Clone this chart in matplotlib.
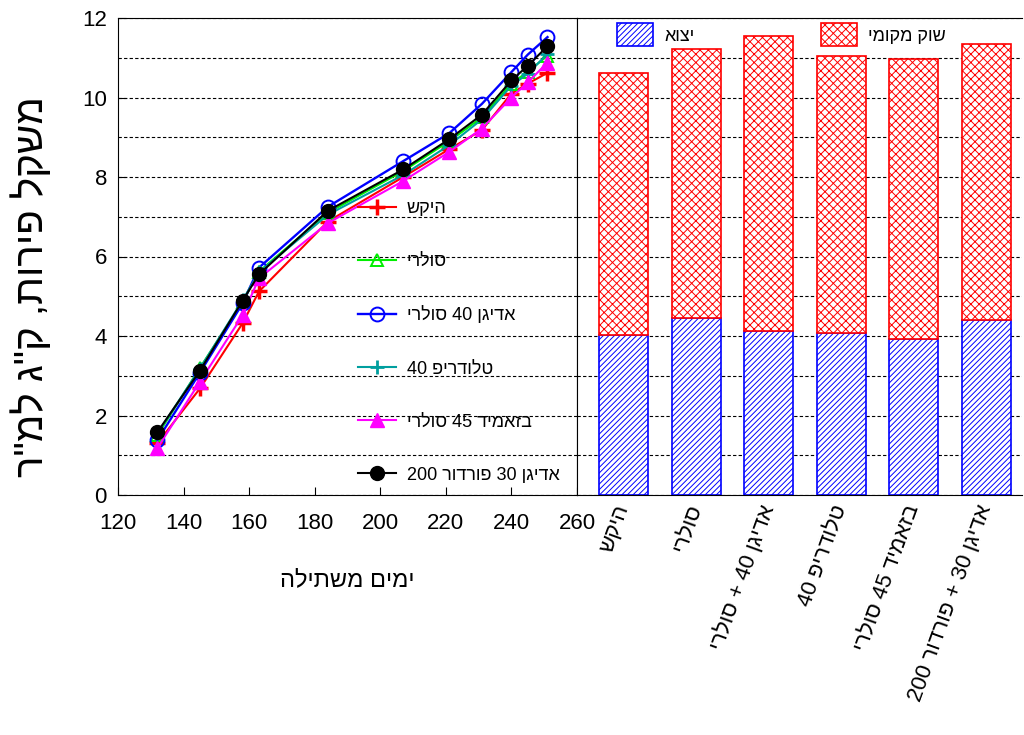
import re
import matplotlib
matplotlib.use('Agg')
import matplotlib.pyplot as plt
from matplotlib.ticker import MultipleLocator

plt.rcParams['font.family'] = ['Liberation Sans', 'DejaVu Sans']
plt.rcParams['hatch.linewidth'] = 0.7


def rtl(s):
    # matplotlib has no bidi support: flip Hebrew to visual order, keep numbers
    r = s[::-1]
    return re.sub(r'\d+', lambda m: m.group(0)[::-1], r)


# days from planting
days = [132, 145, 158, 163, 184, 207, 221, 231, 240, 245, 251]

control = [1.30, 2.68, 4.32, 5.12, 6.88, 8.00, 8.70, 9.18, 10.10, 10.35, 10.62]
solar = [1.50, 3.20, 4.85, 5.62, 7.10, 8.15, 8.90, 9.50, 10.35, 10.65, 11.05]
adigan_solar = [1.38, 3.08, 4.82, 5.72, 7.25, 8.40, 9.10, 9.84, 10.64, 11.08, 11.52]
teludrip = [1.55, 3.18, 4.90, 5.60, 7.05, 8.05, 8.80, 9.45, 10.30, 10.60, 11.10]
basamid_solar = [1.18, 2.85, 4.52, 5.45, 6.84, 7.90, 8.63, 9.22, 10.00, 10.38, 10.88]
adigan_pordor = [1.58, 3.13, 4.89, 5.55, 7.15, 8.19, 8.95, 9.57, 10.43, 10.80, 11.29]

line_labels = ['היקש', 'סולרי', 'אדיגן 40 סולרי', 'טלודריפ 40',
               'בזאמיד 45 סולרי', 'אדיגן 30 פורדור 200']
bar_labels = ['היקש', 'סולרי', 'אדיגן 40 + סולרי', 'טלודריפ 40',
              'בזאמיד 45 סולרי', 'אדיגן 30 + פורדור 200']

export = [4.03, 4.45, 4.13, 4.08, 3.92, 4.40]
local = [6.59, 6.76, 7.42, 6.97, 7.05, 6.95]

fig = plt.figure(figsize=(10.24, 7.35), dpi=100)
ax1 = fig.add_axes([118 / 1024, 1 - 495 / 735, (577 - 118) / 1024, 477 / 735])
ax2 = fig.add_axes([577 / 1024, 1 - 495 / 735, (1022 - 577) / 1024, 477 / 735])

grid_kw = dict(color='black', linestyle=(0, (3, 2)), linewidth=0.8)

# left panel: fruit weight over time
ax1.plot(days, control, color='#ff0000', lw=1.5, marker='+', ms=11, mew=2.5, label=rtl(line_labels[0]))
ax1.plot(days, solar, color='#00ee00', lw=1.5, marker='^', ms=8, mfc='none', mew=1.4, label=rtl(line_labels[1]))
ax1.plot(days, adigan_solar, color='#0000ff', lw=1.7, marker='o', ms=10, mfc='none', mew=1.4, label=rtl(line_labels[2]))
ax1.plot(days, teludrip, color='#009f9f', lw=1.5, marker='+', ms=10, mew=2, label=rtl(line_labels[3]))
ax1.plot(days, basamid_solar, color='#ff00ff', lw=1.5, marker='^', ms=10, label=rtl(line_labels[4]))
ax1.plot(days, adigan_pordor, color='black', lw=1.5, marker='o', ms=10, label=rtl(line_labels[5]))

ax1.set_xlim(120, 260)
ax1.set_ylim(0, 12)
ax1.xaxis.set_major_locator(MultipleLocator(20))
ax1.yaxis.set_major_locator(MultipleLocator(2))
ax1.yaxis.set_minor_locator(MultipleLocator(1))
ax1.grid(True, axis='y', which='both', **grid_kw)
ax1.set_axisbelow(True)
ax1.tick_params(axis='both', which='major', direction='in', labelsize=16, length=6)
ax1.tick_params(axis='x', which='major', pad=13)
ax1.tick_params(axis='y', which='major', pad=8)
ax1.tick_params(axis='y', which='minor', left=False)
ax1.set_xlabel(rtl('ימים משתילה'), fontsize=17)
ax1.xaxis.set_label_coords(0.5, -0.155)
ax1.set_ylabel(rtl('משקל פירות, ק"ג למ"ר'), fontsize=29)
ax1.yaxis.set_label_coords(-0.145, 0.436)
ax1.legend(loc='upper left', bbox_to_anchor=(358 / 1024, 1 - 200 / 735),
           bbox_transform=fig.transFigure, frameon=False, fontsize=13,
           labelspacing=2.0, handlelength=2.1, handletextpad=0.6,
           borderpad=0, borderaxespad=0)

# right panel: export vs local market split
x = range(len(export))
ax2.bar(x, export, width=0.675, color='white', edgecolor='#0000ff', hatch='//////', lw=1.2, label=rtl('יצוא'))
ax2.bar(x, local, bottom=export, width=0.675, color='white', edgecolor='#ff0000', hatch='xxxx', lw=1.2,
        label=rtl('שוק מקומי'))
ax2.set_xlim(-0.64, 5.49)
ax2.set_ylim(0, 12)
ax2.set_yticks(range(0, 13))
ax2.grid(True, axis='y', **grid_kw)
ax2.set_axisbelow(True)
ax2.tick_params(axis='y', left=False, labelleft=False)
ax2.tick_params(axis='x', bottom=False, labelsize=16, pad=4)
ax2.set_xticks(list(x))
ax2.set_xticklabels([rtl(s) for s in bar_labels], rotation=70, ha='right', va='center',
                    rotation_mode='anchor')
ax2.spines['right'].set_visible(False)
ax2.legend(loc='upper left', bbox_to_anchor=(617 / 1024, 1 - 23 / 735),
           bbox_transform=fig.transFigure, frameon=False, fontsize=13, ncol=2,
           handlelength=2.0, handleheight=1.6, handletextpad=0.6, columnspacing=7,
           borderpad=0, borderaxespad=0)

plt.savefig('out.png', dpi=100)
